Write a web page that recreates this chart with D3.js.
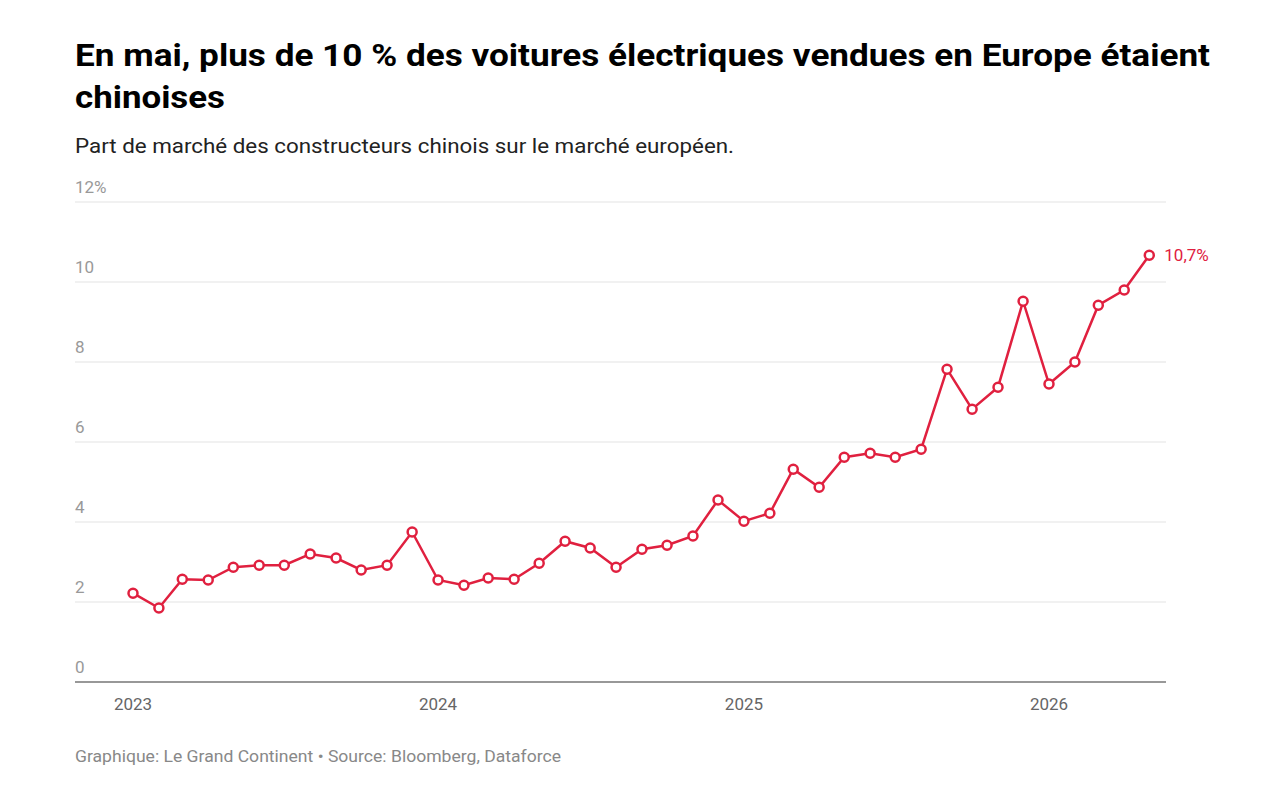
<!DOCTYPE html>
<html><head><meta charset="utf-8">
<script src="https://cdn.jsdelivr.net/npm/d3@7"></script>
<style>body{margin:0;background:#fff;font-family:Roboto,sans-serif}</style>
</head><body><svg id="c" width="1284" height="796"></svg>
<script>
const startYear = 2023;
const values = [2.22,1.85,2.57,2.55,2.87,2.92,2.92,3.2,3.1,2.8,2.92,3.75,
 2.55,2.42,2.6,2.57,2.97,3.52,3.35,2.87,3.32,3.42,3.65,4.55,
 4.02,4.22,5.32,4.87,5.62,5.72,5.62,5.82,7.82,6.82,7.37,9.52,
 7.45,8.0,9.42,9.8,10.67];
const yTicks = [0,2,4,6,8,10,12];
const xTickYears = [2023,2024,2025,2026];
const lastLabel = "10,7%";
const data = values.map((v,i)=>({d:new Date(startYear, i, 1), v}));
const svg = d3.select("#c");
const red = "#e0203f";
svg.append("text").attr("x",75).attr("y",66).attr("font-size",31).attr("font-weight",700).attr("fill","#000")
 .attr("textLength",1135).attr("lengthAdjust","spacingAndGlyphs")
 .text("En mai, plus de 10 % des voitures électriques vendues en Europe étaient");
svg.append("text").attr("x",75).attr("y",108).attr("font-size",31).attr("font-weight",700).attr("fill","#000")
 .attr("textLength",150).attr("lengthAdjust","spacingAndGlyphs").text("chinoises");
svg.append("text").attr("x",75).attr("y",153).attr("font-size",20).attr("fill","#222")
 .attr("textLength",659).attr("lengthAdjust","spacingAndGlyphs").text("Part de marché des constructeurs chinois sur le marché européen.");
svg.append("text").attr("x",75).attr("y",762).attr("font-size",16.5).attr("fill","#888")
 .attr("textLength",486).attr("lengthAdjust","spacingAndGlyphs").text("Graphique: Le Grand Continent • Source: Bloomberg, Dataforce");
const x = d3.scaleTime().domain([new Date(2023,0,1), new Date(2026,0,1)]).range([133,1049]);
const y = d3.scaleLinear().domain([0,12]).range([682,202]);
const g = svg.append("g");
yTicks.forEach(t=>{
  if(t>0) g.append("line").attr("x1",75).attr("x2",1166).attr("y1",y(t)).attr("y2",y(t)).attr("stroke","#e3e3e3");
  g.append("text").attr("x",75).attr("y",y(t)-9).attr("font-size",17).attr("fill","#999").text(t===12?"12%":t);
});
g.append("line").attr("x1",75).attr("x2",1166).attr("y1",y(0)).attr("y2",y(0)).attr("stroke","#333").attr("stroke-width",1.2);
xTickYears.forEach(yr=>{
  g.append("text").attr("x",x(new Date(yr,0,1))).attr("y",710).attr("text-anchor","middle").attr("font-size",17).attr("fill","#666").text(yr);
});
g.append("path").datum(data).attr("fill","none").attr("stroke",red).attr("stroke-width",2.5)
 .attr("d",d3.line().x(d=>x(d.d)).y(d=>y(d.v)));
g.selectAll("circle").data(data).join("circle").attr("cx",d=>x(d.d)).attr("cy",d=>y(d.v)).attr("r",4.5)
 .attr("fill","#fff").attr("stroke",red).attr("stroke-width",2.5);
const last = data[data.length-1];
g.append("text").attr("x",x(last.d)+15).attr("y",y(last.v)+6).attr("font-size",17).attr("fill",red).text(lastLabel);
</script></body></html>
